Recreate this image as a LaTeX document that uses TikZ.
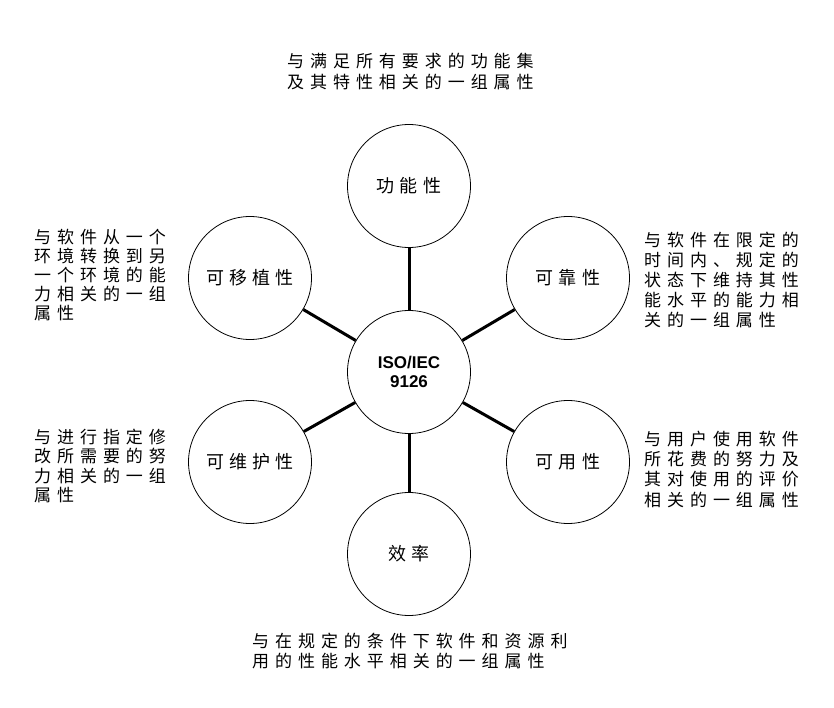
\documentclass[tikz,border=0pt]{standalone}
\usepackage{fontspec}
\newfontfamily\cjkd[LetterSpace=35]{Noto Sans CJK SC}
\newfontfamily\cjkc[LetterSpace=28]{Noto Sans CJK SC}
\setsansfont{Liberation Sans}
\begin{document}
\begin{tikzpicture}[x=1pt,y=-1pt,
  attr/.style={circle, draw, line width=0.8pt, minimum size=123pt, inner sep=0pt,
    font=\cjkc\fontsize{18}{20}\selectfont},
  hub/.style={attr, align=center, font=\sffamily\bfseries\fontsize{17}{19}\selectfont},
  desc/.style={anchor=north west, inner sep=0pt, align=left,
    font=\cjkd\fontsize{17}{20}\selectfont},
  link/.style={line width=3pt}]
\useasboundingbox (0,0) rectangle (834,708);
\fill[white] (0,0) rectangle (834,708);

\node[hub]  (hub) at (409,372) {ISO/IEC\\9126};
\node[attr] (func) at (409,186) {功能性};
\node[attr] (port) at (250,278) {可移植性};
\node[attr] (reli) at (568,278) {可靠性};
\node[attr] (main) at (250,462) {可维护性};
\node[attr] (usab) at (568,462) {可用性};
\node[attr] (effi) at (409,554) {效率};

\draw[link] (hub) -- (func);
\draw[link] (hub) -- (port);
\draw[link] (hub) -- (reli);
\draw[link] (hub) -- (main);
\draw[link] (hub) -- (usab);
\draw[link] (hub) -- (effi);

\node[desc, font=\cjkd\fontsize{17}{20.5}\selectfont] (dfunc) at (287,53) {与满足所有要求的功能集\\及其特性相关的一组属性};
\node[desc, font=\cjkd\fontsize{17}{19}\selectfont] (dport) at (34,229.5) {与软件从一个\\环境转换到另\\一个环境的能\\力相关的一组\\属性};
\node[desc, font=\cjkd\fontsize{17}{20.2}\selectfont] (dreli) at (644,231.5) {与软件在限定的\\时间内、规定的\\状态下维持其性\\能水平的能力相\\关的一组属性};
\node[desc, font=\cjkd\fontsize{17}{19.6}\selectfont] (dmain) at (34,428.5) {与进行指定修\\改所需要的努\\力相关的一组\\属性};
\node[desc, font=\cjkd\fontsize{17}{20.4}\selectfont] (dusab) at (644,430.5) {与用户使用软件\\所花费的努力及\\其对使用的评价\\相关的一组属性};
\node[desc] (deffi) at (252,632.5) {与在规定的条件下软件和资源利\\用的性能水平相关的一组属性};
\end{tikzpicture}
\end{document}
